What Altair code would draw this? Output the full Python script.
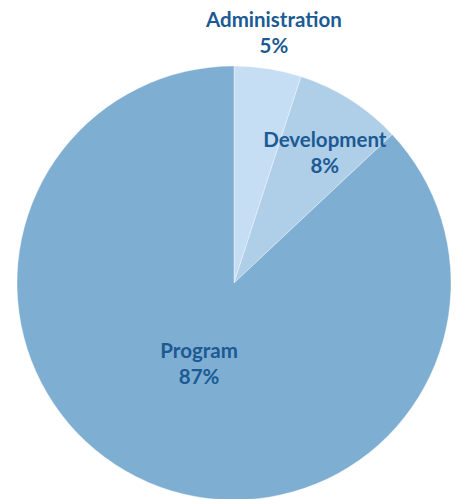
import altair as alt
import pandas as pd

categories = ["Administration", "Development", "Program"]
values = [5, 8, 87]
order = [0, 1, 2]
colors = ["#c6def3", "#afcee8", "#7faed3"]

df = pd.DataFrame({"category": categories, "value": values, "order": order})

base = alt.Chart(df).transform_stack(
    stack="value", groupby=[], as_=["v0", "v1"], sort=[alt.SortField("order")]
).transform_calculate(
    mid="(datum.v0 + datum.v1) / 2",
    label="datum.category + '\\n' + datum.value + '%'",
)

cx, cy, R = 226, 275, 217

pie = alt.Chart(df).mark_arc(radius=R, stroke="#ffffff", strokeWidth=0.6, strokeOpacity=0.6).encode(
    theta=alt.Theta("value:Q", stack=True),
    order=alt.Order("order:Q"),
    color=alt.Color("category:N", scale=alt.Scale(domain=categories, range=colors), legend=None),
    x=alt.value(cx),
    y=alt.value(cy),
)

def label(cat, r, dy, dx=0):
    return base.transform_filter(alt.datum.category == cat).mark_text(
        radius=r, font="Lato", fontWeight="bold", fontSize=20.5, color="#1b5a93",
        lineBreak="\n", lineHeight=26, align="center", baseline="middle", dy=dy, dx=dx,
    ).encode(
        theta=alt.Theta("mid:Q"),
        text="label:N",
        x=alt.value(cx),
        y=alt.value(cy),
    )

chart = alt.layer(
    pie,
    label("Administration", 255, -10),
    label("Development", 162, -5, 4),
    label("Program", 88, -12),
).properties(
    width=445, height=491, padding=0, autosize=alt.AutoSizeParams(type="none")
).configure_view(stroke=None)

chart.save("out.html", embed_options={"renderer": "svg", "actions": False})
